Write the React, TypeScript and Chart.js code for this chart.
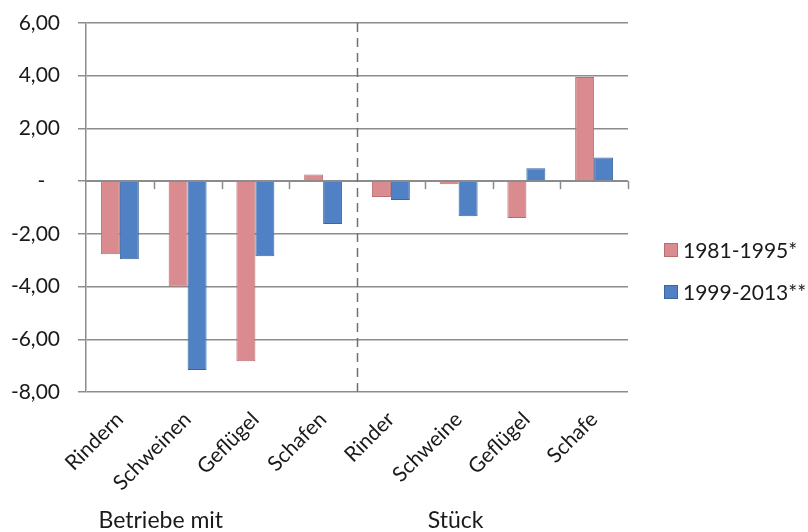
import React, { useEffect, useRef } from "react";
import { Chart, registerables } from "chart.js";

Chart.register(...registerables);

const categories = ["Rindern", "Schweinen", "Geflügel", "Schafen", "Rinder", "Schweine", "Geflügel", "Schafe"];
const series1Label = "1981-1995*";
const series2Label = "1999-2013**";
const series1 = [-2.77, -4.0, -6.83, 0.25, -0.6, -0.12, -1.4, 3.95];
const series2 = [-2.96, -7.17, -2.85, -1.63, -0.72, -1.33, 0.49, 0.9];
const groupLabels = ["Betriebe mit", "Stück"];
const yMin = -8;
const yMax = 6;
const yStep = 2;

const FONT = "Lato, 'DejaVu Sans', sans-serif";
const TEXT = "#1a1a1a";
const GRID = "#8c8c8c";
const PINK = "#d98b8f";
const PINK_BORDER = "#b86d71";
const BLUE = "#4f81c4";
const BLUE_BORDER = "#3a67a0";

const decorPlugin = {
  id: "decor",
  afterDatasetsDraw(chart: any) {
    const { ctx, chartArea, scales } = chart;
    const y = scales.y;
    const y0 = y.getPixelForValue(0);
    const n = categories.length;
    const step = (chartArea.right - chartArea.left) / n;
    ctx.save();
    ctx.strokeStyle = GRID;
    ctx.lineWidth = 1.5;
    ctx.beginPath();
    ctx.moveTo(chartArea.left, y0);
    ctx.lineTo(chartArea.right, y0);
    ctx.stroke();
    for (let i = 1; i <= n; i++) {
      const bx = Math.round(chartArea.left + i * step) + 0.5;
      if (i === 4) continue;
      ctx.beginPath();
      ctx.moveTo(bx, y0);
      ctx.lineTo(bx, y0 + 8);
      ctx.stroke();
    }
    const sx = Math.round(chartArea.left + 4 * step) + 0.5;
    ctx.strokeStyle = "#707070";
    ctx.lineWidth = 1.5;
    ctx.setLineDash([9, 6]);
    ctx.beginPath();
    ctx.moveTo(sx, chartArea.top);
    ctx.lineTo(sx, chartArea.bottom);
    ctx.stroke();
    ctx.setLineDash([]);
    ctx.fillStyle = TEXT;
    ctx.font = "23px " + FONT;
    ctx.textAlign = "center";
    ctx.textBaseline = "middle";
    const w = chartArea.right - chartArea.left;
    ctx.fillText(groupLabels[0], chartArea.left + w * 0.138, 521);
    ctx.fillText(groupLabels[1], chartArea.left + w * 0.682, 521);
    const items = [
      { label: series1Label, fill: PINK, stroke: PINK_BORDER, cy: 250 },
      { label: series2Label, fill: BLUE, stroke: BLUE_BORDER, cy: 292 },
    ];
    ctx.font = "21px " + FONT;
    ctx.textAlign = "left";
    items.forEach((it) => {
      ctx.fillStyle = it.fill;
      ctx.fillRect(664, it.cy - 7, 14, 14);
      ctx.strokeStyle = it.stroke;
      ctx.lineWidth = 1;
      ctx.strokeRect(664.5, it.cy - 6.5, 13, 13);
      ctx.fillStyle = TEXT;
      ctx.fillText(it.label, 683, it.cy + 1);
    });
    ctx.restore();
  },
};

export default function App() {
  const ref = useRef<HTMLCanvasElement>(null);
  useEffect(() => {
    if (!ref.current) return;
    const chart = new Chart(ref.current, {
      type: "bar",
      data: {
        labels: categories,
        datasets: [
          {
            label: series1Label,
            data: series1,
            backgroundColor: PINK,
            borderColor: PINK_BORDER,
            borderWidth: 1,
            categoryPercentage: 0.56,
            barPercentage: 1.0,
          },
          {
            label: series2Label,
            data: series2,
            backgroundColor: BLUE,
            borderColor: BLUE_BORDER,
            borderWidth: 1,
            categoryPercentage: 0.56,
            barPercentage: 1.0,
          },
        ],
      },
      options: {
        animation: false,
        responsive: false,
        devicePixelRatio: 1,
        layout: { padding: { left: 0, right: 180, top: 23, bottom: 0 } },
        plugins: {
          legend: { display: false },
          tooltip: { enabled: false },
        },
        scales: {
          x: {
            grid: { display: false, drawTicks: false },
            border: { display: false },
            ticks: {
              maxRotation: 45,
              minRotation: 45,
              padding: 15,
              color: TEXT,
              font: { family: FONT, size: 21 },
            },
            afterFit: (scale: any) => {
              scale.height = 140;
              scale.paddingLeft = 0;
              scale.paddingRight = 0;
            },
          },
          y: {
            min: yMin,
            max: yMax,
            ticks: {
              stepSize: yStep,
              padding: 18,
              color: TEXT,
              font: { family: FONT, size: 21 },
              callback: (v: any) =>
                Number(v) === 0 ? "-\u2007\u2009" : Number(v).toFixed(2).replace(".", ","),
            },
            grid: { color: GRID, lineWidth: 1.5, tickLength: 8 },
            border: { display: true, color: GRID, width: 1.5 },
            afterFit: (scale: any) => {
              scale.width = 86;
              scale.paddingTop = 0;
              scale.paddingBottom = 0;
            },
          },
        },
      },
      plugins: [decorPlugin],
    });
    return () => chart.destroy();
  }, []);
  return (
    <div style={{ position: "absolute", left: 0, top: 0, width: 808, height: 532, background: "#fff" }}>
      <canvas ref={ref} width={808} height={532} />
    </div>
  );
}
